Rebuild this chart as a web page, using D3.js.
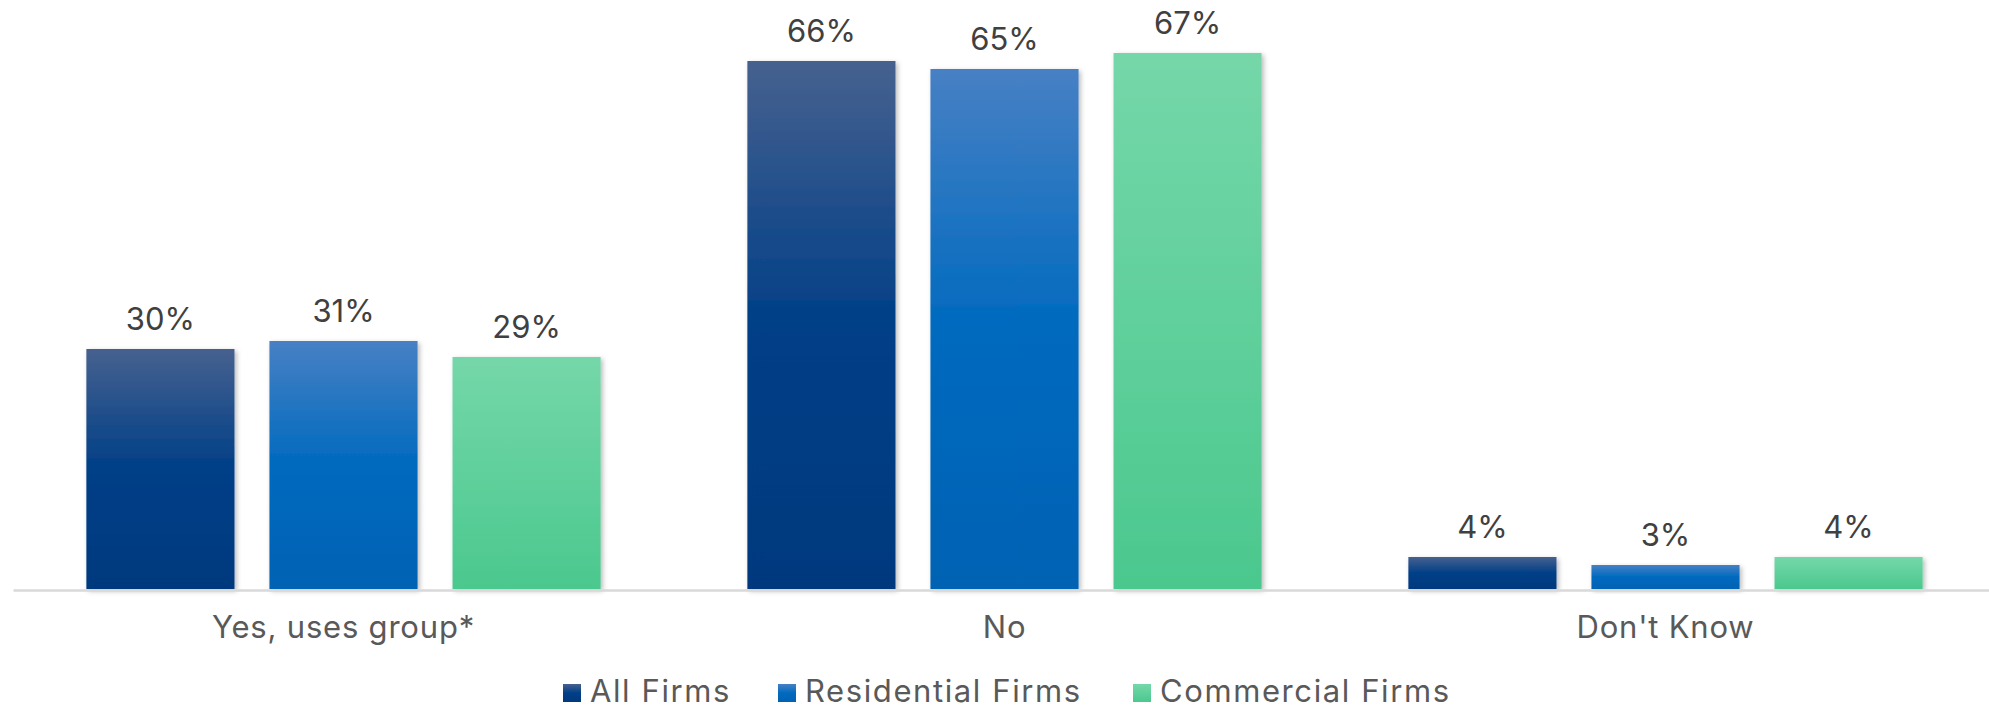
<!DOCTYPE html>
<html>
<head>
<meta charset="utf-8">
<script src="https://cdn.jsdelivr.net/npm/d3@7"></script>
<style>
  html, body { margin: 0; padding: 0; background: #fff; }
  svg { display: block; font-family: Inter, "Noto Sans", sans-serif; }
</style>
</head>
<body>
<div class="chart"></div>
<script>
// data
const categories = ["Yes, uses group*", "No", "Don't Know"];
const seriesNames = ["All Firms", "Residential Firms", "Commercial Firms"];
const allFirms = [30, 66, 4];
const residentialFirms = [31, 65, 3];
const commercialFirms = [29, 67, 4];
const seriesValues = [allFirms, residentialFirms, commercialFirms];

const w = 1989;
const h = 708;

// gradient stops per series (top -> bottom)
const gradStops = [
  [["0%", "#46618f"], ["50%", "#003f87"], ["100%", "#00397e"]],
  [["0%", "#4780c4"], ["50%", "#006abf"], ["100%", "#0062b3"]],
  [["0%", "#75d7a9"], ["100%", "#4bc88e"]]
];

const svg = d3.select(".chart").append("svg")
  .attr("width", w)
  .attr("height", h);

const defs = svg.append("defs");
gradStops.forEach(function(stops, i) {
  const g = defs.append("linearGradient")
    .attr("id", "grad" + i)
    .attr("x1", 0).attr("y1", 0).attr("x2", 0).attr("y2", 1);
  stops.forEach(function(s) {
    g.append("stop").attr("offset", s[0]).attr("stop-color", s[1]);
  });
});

const shadow = defs.append("filter")
  .attr("id", "shadow")
  .attr("x", "-10%").attr("y", "-10%")
  .attr("width", "130%").attr("height", "130%");
shadow.append("feDropShadow")
  .attr("dx", 2).attr("dy", 2)
  .attr("stdDeviation", 2.5)
  .attr("flood-color", "#000")
  .attr("flood-opacity", 0.28);

const x0 = d3.scaleBand()
  .domain(categories)
  .range([13, 1996])
  .paddingInner(0.222)
  .paddingOuter(0.111);

const x1 = d3.scaleBand()
  .domain(seriesNames)
  .range([0, x0.bandwidth()])
  .paddingInner(0.191);

const y = d3.scaleLinear()
  .domain([0, 70])
  .range([589, 29]);

// bars
const groups = svg.append("g").selectAll("g")
  .data(categories)
  .join("g")
  .attr("transform", function(d) { return "translate(" + x0(d) + ",0)"; });

groups.selectAll("rect")
  .data(function(d, ci) {
    return seriesNames.map(function(s, si) {
      return { series: s, si: si, value: seriesValues[si][ci] };
    });
  })
  .join("rect")
  .attr("x", function(d) { return x1(d.series); })
  .attr("y", function(d) { return y(d.value); })
  .attr("width", x1.bandwidth())
  .attr("height", function(d) { return y(0) - y(d.value); })
  .attr("fill", function(d) { return "url(#grad" + d.si + ")"; })
  .attr("filter", "url(#shadow)");

groups.selectAll("text")
  .data(function(d, ci) {
    return seriesNames.map(function(s, si) {
      return { series: s, value: seriesValues[si][ci] };
    });
  })
  .join("text")
  .attr("x", function(d) { return x1(d.series) + x1.bandwidth() / 2; })
  .attr("y", function(d) { return y(d.value) - 19; })
  .attr("text-anchor", "middle")
  .attr("font-size", 31)
  .attr("fill", "#404040")
  .text(function(d) { return d.value + "%"; });

// x axis
const xAxis = svg.append("g")
  .attr("transform", "translate(0," + 590 + ")")
  .call(d3.axisBottom(x0).tickSize(0).tickPadding(26));
xAxis.select(".domain")
  .attr("stroke", "#d9d9d9")
  .attr("stroke-width", 2.5);
xAxis.selectAll(".tick text")
  .attr("font-size", 31)
  .attr("font-family", "Inter, 'Noto Sans', sans-serif")
  .attr("letter-spacing", "0.8px")
  .attr("fill", "#595959");

// legend
const legendX = [563, 778, 1133];
const legend = svg.append("g").selectAll("g")
  .data(seriesNames)
  .join("g")
  .attr("transform", function(d, i) { return "translate(" + legendX[i] + ",684)"; });
legend.append("rect")
  .attr("width", 18).attr("height", 18)
  .attr("fill", function(d, i) { return "url(#grad" + i + ")"; });
legend.append("text")
  .attr("x", 27)
  .attr("y", 18)
  .attr("font-size", 31)
  .attr("letter-spacing", "1.6px")
  .attr("fill", "#595959")
  .text(function(d) { return d; });
</script>
</body>
</html>
